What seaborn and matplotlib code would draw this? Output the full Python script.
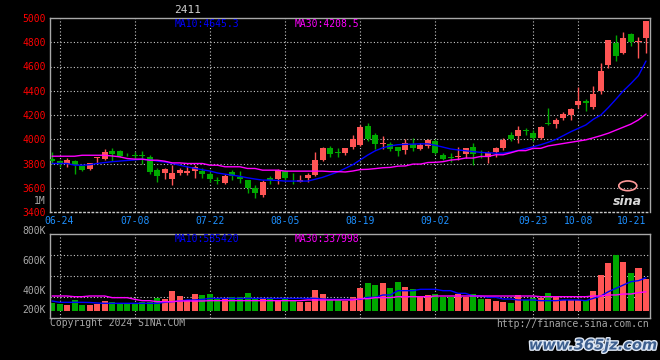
import numpy as np
import matplotlib
matplotlib.use("Agg")
import matplotlib.pyplot as plt
import matplotlib.patheffects as pe
from matplotlib.patches import Ellipse
import seaborn as sns

sns.set_style("dark", {"axes.facecolor": "black", "figure.facecolor": "black"})
plt.rcParams['font.family'] = ['DejaVu Sans Mono', 'DejaVu Sans']

# ---- data (contract 2411, daily) ----
title = "2411"
date_labels = ["06-24", "07-08", "07-22", "08-05", "08-19", "09-02", "09-23", "10-08", "10-21"]
date_pos = [1, 11, 21, 31, 41, 51, 64, 70, 79]

open_ = [3837, 3824, 3797, 3821, 3778, 3756, 3843, 3837, 3902, 3902,
         3880, 3873, 3870, 3851, 3748, 3718, 3669, 3721, 3721, 3737,
         3740, 3710, 3658, 3640, 3729, 3691, 3661, 3595, 3541, 3684,
         3676, 3735, 3657, 3649, 3684, 3702, 3829, 3926, 3893, 3890,
         3936, 3950, 4111, 4039, 3958, 3963, 3936, 3912, 3963, 3923,
         3944, 3985, 3869, 3856, 3854, 3875, 3938, 3880, 3850, 3891,
         3929, 4038, 4025, 4070, 4052, 4011, 4130, 4122, 4176, 4202,
         4283, 4318, 4269, 4395, 4610, 4797, 4712, 4872, 4800, 4838]
high = [3897, 3826, 3843, 3825, 3782, 3808, 3851, 3919, 3924, 3910,
        3890, 3892, 3900, 3873, 3762, 3765, 3789, 3765, 3778, 3789,
        3762, 3729, 3688, 3710, 3743, 3737, 3665, 3622, 3662, 3694,
        3756, 3743, 3721, 3708, 3724, 3896, 3936, 3944, 3931, 3930,
        4031, 4119, 4133, 4052, 4025, 3980, 3940, 3998, 4012, 3971,
        3998, 3998, 3890, 3883, 3938, 3930, 3965, 3910, 3902, 3938,
        4014, 4060, 4106, 4095, 4074, 4109, 4256, 4176, 4224, 4256,
        4430, 4328, 4436, 4631, 4819, 4859, 4886, 4880, 4845, 4972]
low = [3797, 3770, 3775, 3710, 3740, 3750, 3802, 3832, 3821, 3855,
       3862, 3838, 3800, 3716, 3648, 3669, 3626, 3702, 3707, 3680,
       3680, 3648, 3634, 3629, 3661, 3640, 3553, 3514, 3527, 3630,
       3635, 3662, 3630, 3647, 3649, 3697, 3818, 3850, 3850, 3872,
       3917, 3945, 3985, 3917, 3917, 3899, 3864, 3877, 3904, 3910,
       3925, 3877, 3825, 3810, 3829, 3842, 3788, 3842, 3802, 3856,
       3910, 3984, 3973, 4038, 3984, 4005, 4114, 4095, 4157, 4157,
       4256, 4237, 4248, 4377, 4591, 4645, 4700, 4765, 4671, 4712]
close = [3821, 3797, 3832, 3789, 3743, 3805, 3846, 3897, 3878, 3859,
         3875, 3862, 3862, 3729, 3694, 3756, 3718, 3748, 3737, 3770,
         3712, 3675, 3655, 3694, 3696, 3675, 3600, 3554, 3649, 3662,
         3748, 3684, 3652, 3667, 3708, 3829, 3926, 3877, 3890, 3926,
         3998, 4100, 4006, 3958, 3962, 3917, 3904, 3971, 3931, 3950,
         3990, 3883, 3837, 3845, 3858, 3924, 3878, 3875, 3883, 3924,
         3997, 4006, 4079, 4066, 4011, 4101, 4127, 4162, 4208, 4248,
         4318, 4296, 4377, 4559, 4819, 4685, 4832, 4800, 4811, 4972]

ma10 = [3800, 3800, 3800, 3786, 3786, 3790, 3800, 3808, 3815, 3820,
        3825, 3830, 3835, 3830, 3820, 3812, 3800, 3786, 3772, 3760,
        3748, 3738, 3722, 3712, 3704, 3694, 3682, 3672, 3663, 3663,
        3660, 3655, 3655, 3655, 3655, 3670, 3686, 3708, 3730, 3760,
        3790, 3830, 3870, 3905, 3930, 3945, 3955, 3958, 3960, 3962,
        3962, 3950, 3935, 3920, 3912, 3905, 3898, 3892, 3888, 3885,
        3885, 3895, 3908, 3922, 3938, 3955, 3975, 3998, 4030, 4062,
        4090, 4118, 4165, 4200, 4262, 4330, 4400, 4460, 4525, 4645]
ma30 = [3860, 3860, 3860, 3860, 3868, 3868, 3868, 3868, 3862, 3855,
        3841, 3836, 3836, 3827, 3827, 3819, 3805, 3805, 3800, 3800,
        3800, 3786, 3786, 3773, 3773, 3773, 3759, 3759, 3745, 3745,
        3745, 3737, 3737, 3737, 3737, 3737, 3737, 3733, 3733, 3730,
        3738, 3750, 3752, 3758, 3765, 3768, 3778, 3780, 3795, 3795,
        3808, 3810, 3815, 3828, 3834, 3845, 3845, 3858, 3858, 3872,
        3872, 3888, 3906, 3906, 3925, 3925, 3945, 3955, 3965, 3975,
        3985, 3995, 4012, 4030, 4050, 4075, 4100, 4125, 4160, 4208]
ma10_last, ma30_last = "4645.3", "4208.5"

volume = [135, 117, 106, 194, 106, 106, 117, 176, 158, 117,
          117, 135, 164, 164, 235, 211, 352, 264, 194, 299,
          282, 299, 223, 235, 252, 252, 323, 223, 235, 205,
          194, 235, 194, 164, 164, 370, 299, 205, 205, 176,
          241, 411, 499, 458, 499, 411, 517, 428, 382, 252,
          276, 299, 252, 252, 299, 252, 299, 205, 217, 182,
          164, 147, 282, 194, 223, 223, 323, 241, 194, 194,
          194, 194, 358, 634, 851, 986, 869, 675, 763, 558]
vol_ma10 = [176, 153, 153, 153, 153, 150, 141, 135, 135, 135,
            135, 135, 135, 135, 135, 153, 164, 176, 194, 194,
            205, 223, 223, 223, 223, 223, 223, 223, 223, 223,
            223, 223, 223, 223, 223, 223, 211, 205, 205, 205,
            205, 205, 241, 241, 282, 282, 358, 358, 358, 382,
            382, 382, 358, 358, 311, 311, 264, 264, 241, 241,
            211, 211, 194, 194, 194, 182, 182, 182, 194, 194,
            194, 182, 223, 264, 340, 399, 458, 517, 534, 585]
vol_ma30 = [264, 264, 264, 252, 252, 264, 264, 264, 235, 235,
            235, 205, 182, 182, 164, 164, 164, 176, 176, 176,
            176, 182, 182, 182, 182, 182, 182, 182, 182, 182,
            182, 182, 182, 182, 194, 194, 194, 194, 194, 194,
            194, 217, 217, 235, 235, 235, 252, 252, 252, 252,
            252, 264, 264, 264, 264, 264, 264, 264, 264, 264,
            264, 264, 264, 264, 264, 252, 252, 252, 252, 252,
            252, 252, 264, 264, 282, 282, 299, 299, 323, 338]
vol_ma10_last, vol_ma30_last = "585420", "337998"
vol_labels = ["800K", "600K", "400K", "200K"]
price_ticks = list(range(3400, 5001, 200))

# ---- styling ----
RED, GREEN = "#ff5555", "#00a800"
BLUE, MAGENTA = "#0000ff", "#ff00ff"
GRID = "#c8c8c8"
BORDER = "#a8a8a8"
GRAY = "#a8a8a8"

o = np.array(open_, float)
c = np.array(close, float)
x = np.arange(len(c))
cols = np.where(c >= o, RED, GREEN)
vol = np.array(volume) * 1000

fig = plt.figure(figsize=(6.6, 3.6), dpi=100)
fig.patch.set_facecolor("black")
ax = fig.add_axes([50/660, 1-212/360, 600/660, 194/360])
axv = fig.add_axes([50/660, 1-318/360, 600/660, 84/360])
for a in (ax, axv):
    a.set_facecolor("black")
    a.set_xlim(-0.27, 79.53)
    for s in a.spines.values():
        s.set_color(BORDER)
        s.set_linewidth(1)
        s.set_visible(True)
    for xi in date_pos[:-1]:
        a.axvline(xi, color=GRID, ls=(0, (1, 2)), lw=0.8, zorder=0)
ax.spines["bottom"].set_linestyle((0, (1, 2)))
ax.spines["bottom"].set_color(GRID)

# price panel
for yv in price_ticks[1:-1]:
    ax.axhline(yv, color=GRID, ls=(0, (1, 2)), lw=0.8, zorder=0)
ax.vlines(x, low, high, colors=cols, lw=1, zorder=2)
ax.bar(x, np.maximum(np.abs(c - o), 7), bottom=np.minimum(o, c), width=0.8,
       color=cols, linewidth=0, zorder=3)
sns.lineplot(x=x, y=ma10, ax=ax, color=BLUE, lw=1, estimator=None, zorder=4)
sns.lineplot(x=x, y=ma30, ax=ax, color=MAGENTA, lw=1, estimator=None, zorder=4)
ax.set_ylim(3400, 5000)
ax.set_yticks(price_ticks)
ax.set_yticklabels([str(t) for t in price_ticks])
ax.set_xticks(date_pos)
ax.set_xticklabels(date_labels)
ax.tick_params(axis="y", length=0, pad=3, labelcolor="#ff0000", labelsize=7)
ax.tick_params(axis="x", length=0, pad=3, labelcolor="#1e90ff", labelsize=7)
ax.get_xticklabels()[-1].set_horizontalalignment("right")
ax.set_xlabel("")
ax.set_ylabel("")
ax.text(-0.0067, 0.059, "1M", color=GRAY, fontsize=7, ha="right", va="center",
        transform=ax.transAxes)
ax.text(0.208, 0.969, "MA10:" + ma10_last, color=BLUE, fontsize=7, va="center",
        transform=ax.transAxes)
ax.text(0.408, 0.969, "MA30:" + ma30_last, color=MAGENTA, fontsize=7, va="center",
        transform=ax.transAxes)

# sina logo
ax.add_patch(Ellipse((0.963, 0.135), 0.03, 0.05, transform=ax.transAxes,
                     fill=False, ec="#ff9a9a", lw=1.2, zorder=5))
ax.text(0.962, 0.055, "sina", color="#d8d8d8", fontsize=9, fontweight="bold",
        style="italic", family="DejaVu Sans", ha="center", va="center",
        transform=ax.transAxes, zorder=5)

# volume panel
for f in (0.25, 0.5, 0.75):
    axv.plot([0, 1], [f, f], transform=axv.transAxes, color=GRID,
             ls=(0, (1, 2)), lw=0.8, zorder=0)
axv.bar(x, vol, width=0.8, color=cols, linewidth=0, zorder=2)
sns.lineplot(x=x, y=np.array(vol_ma10) * 1000, ax=axv, color=BLUE, lw=1,
             estimator=None, zorder=4)
sns.lineplot(x=x, y=np.array(vol_ma30) * 1000, ax=axv, color=MAGENTA, lw=1,
             estimator=None, zorder=4)
axv.set_ylim(-123e3, 1355e3)
axv.set_xticks([])
axv.set_yticks([])
axv.set_xlabel("")
axv.set_ylabel("")
for lab, fy in zip(vol_labels, [1.036, 0.679, 0.321, 0.095]):
    axv.text(-0.0067, fy, lab, color=GRAY, fontsize=7, ha="right", va="center",
             transform=axv.transAxes)
axv.text(0.208, 0.946, "MA10:" + vol_ma10_last, color=BLUE, fontsize=7,
         va="center", transform=axv.transAxes)
axv.text(0.408, 0.946, "MA30:" + vol_ma30_last, color=MAGENTA, fontsize=7,
         va="center", transform=axv.transAxes)

# header / footer
fig.text(188/660, 1-10/360, title, color="#d0d0d0", fontsize=8, ha="center", va="center")
fig.text(50/660, 1-323/360, "Copyright 2024 SINA.COM", color=GRAY, fontsize=7, va="center")
fig.text(649/660, 1-324/360, "http://finance.sina.com.cn", color=GRAY, fontsize=7,
         ha="right", va="center")
fig.text(593/660, 1-345/360, "www.365jz.com", color="#3d5f8f", fontsize=10.5,
         fontweight="bold", style="italic", family="DejaVu Sans", ha="center", va="center",
         path_effects=[pe.withStroke(linewidth=2, foreground="#dfe8f5")])

fig.savefig("out.png", dpi=100, facecolor="black")
